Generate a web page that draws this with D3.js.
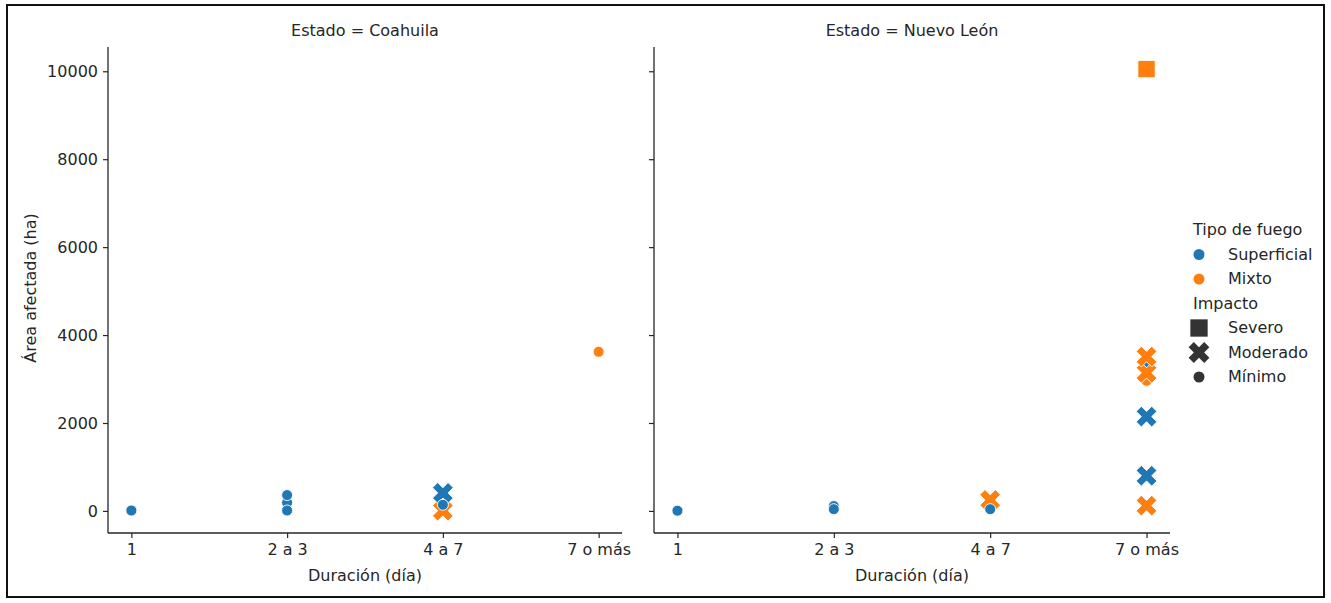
<!DOCTYPE html>
<html>
<head>
<meta charset="utf-8">
<script src="https://cdn.jsdelivr.net/npm/d3@7"></script>
<style>
  body { margin: 0; background: #fff; }
  svg { display: block; font-family: "DejaVu Sans", sans-serif; }
</style>
</head>
<body>
<div id="chart"></div>
<script>
// ---------------- DATA ----------------
const estados = ["Coahuila", "Nuevo León"];
const duraciones = ["1", "2 a 3", "4 a 7", "7 o más"];
const yTicks = [0, 2000, 4000, 6000, 8000, 10000];
const tipos = ["Superficial", "Mixto"];
const impactos = ["Severo", "Moderado", "Mínimo"];

// one entry per fire, in drawing order
const ptEstado   = ["Coahuila", "Coahuila", "Coahuila", "Coahuila", "Coahuila", "Coahuila", "Coahuila", "Coahuila",
                    "Nuevo León", "Nuevo León", "Nuevo León", "Nuevo León", "Nuevo León", "Nuevo León", "Nuevo León",
                    "Nuevo León", "Nuevo León", "Nuevo León", "Nuevo León", "Nuevo León", "Nuevo León"];
const ptDuracion = ["1", "2 a 3", "2 a 3", "2 a 3", "4 a 7", "4 a 7", "4 a 7", "7 o más",
                    "1", "2 a 3", "2 a 3", "4 a 7", "4 a 7", "7 o más", "7 o más",
                    "7 o más", "7 o más", "7 o más", "7 o más", "7 o más", "7 o más"];
const ptArea     = [10, 190, 360, 10, 5, 410, 140, 3620,
                    5, 110, 40, 250, 40, 10050, 3320,
                    2960, 3140, 3510, 2145, 800, 120];
const ptTipo     = ["Superficial", "Superficial", "Superficial", "Superficial", "Mixto", "Superficial", "Superficial", "Mixto",
                    "Superficial", "Superficial", "Superficial", "Mixto", "Superficial", "Mixto", "Superficial",
                    "Mixto", "Mixto", "Mixto", "Superficial", "Superficial", "Mixto"];
const ptImpacto  = ["Mínimo", "Mínimo", "Mínimo", "Mínimo", "Moderado", "Moderado", "Mínimo", "Mínimo",
                    "Mínimo", "Mínimo", "Mínimo", "Moderado", "Mínimo", "Severo", "Mínimo",
                    "Mínimo", "Moderado", "Moderado", "Moderado", "Moderado", "Moderado"];

const points = ptArea.map((v, i) => ({
  estado: ptEstado[i], duracion: ptDuracion[i], area: v, tipo: ptTipo[i], impacto: ptImpacto[i]
}));

// ---------------- LAYOUT ----------------
const width = 1331, height = 603;
const panels = [{left: 108, right: 622}, {left: 654, right: 1170}];
const plotTop = 47, plotBottom = 533;
const fontSize = 16;
const ink = "#262626";

const svg = d3.select("#chart").append("svg")
  .attr("width", width)
  .attr("height", height);

svg.append("rect")
  .attr("x", 7).attr("y", 5)
  .attr("width", 1317).attr("height", 592)
  .attr("fill", "none")
  .attr("stroke", "#111")
  .attr("stroke-width", 2);

const color = d3.scaleOrdinal().domain(tipos).range(["#1f77b4", "#ff7f0e"]);
const shape = d3.scaleOrdinal().domain(impactos).range([d3.symbolSquare, d3.symbolCross, d3.symbolCircle]);
const area = d3.scaleOrdinal().domain(impactos).range([300, 270, 95]);
const rot = d3.scaleOrdinal().domain(impactos).range([0, 45, 0]);

const y = d3.scaleLinear().domain([-502, 10552]).range([plotBottom, plotTop]);

estados.forEach((estado, pi) => {
  const p = panels[pi];
  const pad = (p.right - p.left) * 0.15 / 3.3;
  const x = d3.scalePoint().domain(duraciones).range([p.left + pad, p.right - pad]);

  const g = svg.append("g");

  // axes
  const yAxis = d3.axisLeft(y).tickValues(yTicks).tickSize(5).tickPadding(5)
    .tickFormat(pi === 0 ? d3.format("d") : () => "");
  const gy = g.append("g").attr("transform", `translate(${p.left},0)`).call(yAxis);

  const xAxis = d3.axisBottom(x).tickSize(5).tickPadding(6);
  const gx = g.append("g").attr("transform", `translate(0,${plotBottom})`).call(xAxis);

  gx.select(".domain").attr("d", `M${p.left},0H${p.right}`);
  gy.select(".domain").attr("d", `M0,${plotBottom}V${plotTop}`);
  [gx, gy].forEach(ax => {
    ax.select(".domain").attr("stroke", ink).attr("stroke-width", 1.3);
    ax.selectAll(".tick line").attr("stroke", ink).attr("stroke-width", 1.2);
    ax.selectAll(".tick text").attr("fill", ink)
      .style("font-size", fontSize + "px").style("font-family", "DejaVu Sans");
  });

  // title
  g.append("text")
    .attr("x", (p.left + p.right) / 2)
    .attr("y", 36)
    .attr("text-anchor", "middle")
    .attr("fill", ink)
    .style("font-size", fontSize + "px")
    .text(`Estado = ${estado}`);

  // x label
  g.append("text")
    .attr("x", (p.left + p.right) / 2)
    .attr("y", 581)
    .attr("text-anchor", "middle")
    .attr("fill", ink)
    .style("font-size", fontSize + "px")
    .text("Duración (día)");

  // points
  g.selectAll("path.pt")
    .data(points.filter(d => d.estado === estado))
    .join("path")
    .attr("class", "pt")
    .attr("d", d => d3.symbol(shape(d.impacto), area(d.impacto))())
    .attr("transform", d => `translate(${x(d.duracion)},${y(d.area)}) rotate(${rot(d.impacto)})`)
    .attr("fill", d => color(d.tipo))
    .attr("stroke", "#fff")
    .attr("stroke-width", 0.9);
});

// y label
svg.append("text")
  .attr("transform", `translate(36,${(plotTop + plotBottom) / 2 - 2}) rotate(-90)`)
  .attr("text-anchor", "middle")
  .attr("fill", ink)
  .style("font-size", fontSize + "px")
  .text("Área afectada (ha)");

// ---------------- LEGEND ----------------
const leg = svg.append("g").attr("transform", "translate(1193,0)");
const rowH = 24.5;
let ly = 230;

function legTitle(txt) {
  leg.append("text").attr("x", 0).attr("y", ly + 5)
    .attr("fill", ink).style("font-size", fontSize + "px").text(txt);
  ly += rowH;
}
function legRow(txt, sym, sz, fill, r) {
  leg.append("path")
    .attr("d", d3.symbol(sym, sz)())
    .attr("transform", `translate(6,${ly}) rotate(${r})`)
    .attr("fill", fill);
  leg.append("text").attr("x", 35).attr("y", ly + 5)
    .attr("fill", ink).style("font-size", fontSize + "px").text(txt);
  ly += rowH;
}

legTitle("Tipo de fuego");
tipos.forEach(t => legRow(t, d3.symbolCircle, 95, color(t), 0));
legTitle("Impacto");
impactos.forEach(im => legRow(im, shape(im), area(im), "#333", rot(im)));
</script>
</body>
</html>
